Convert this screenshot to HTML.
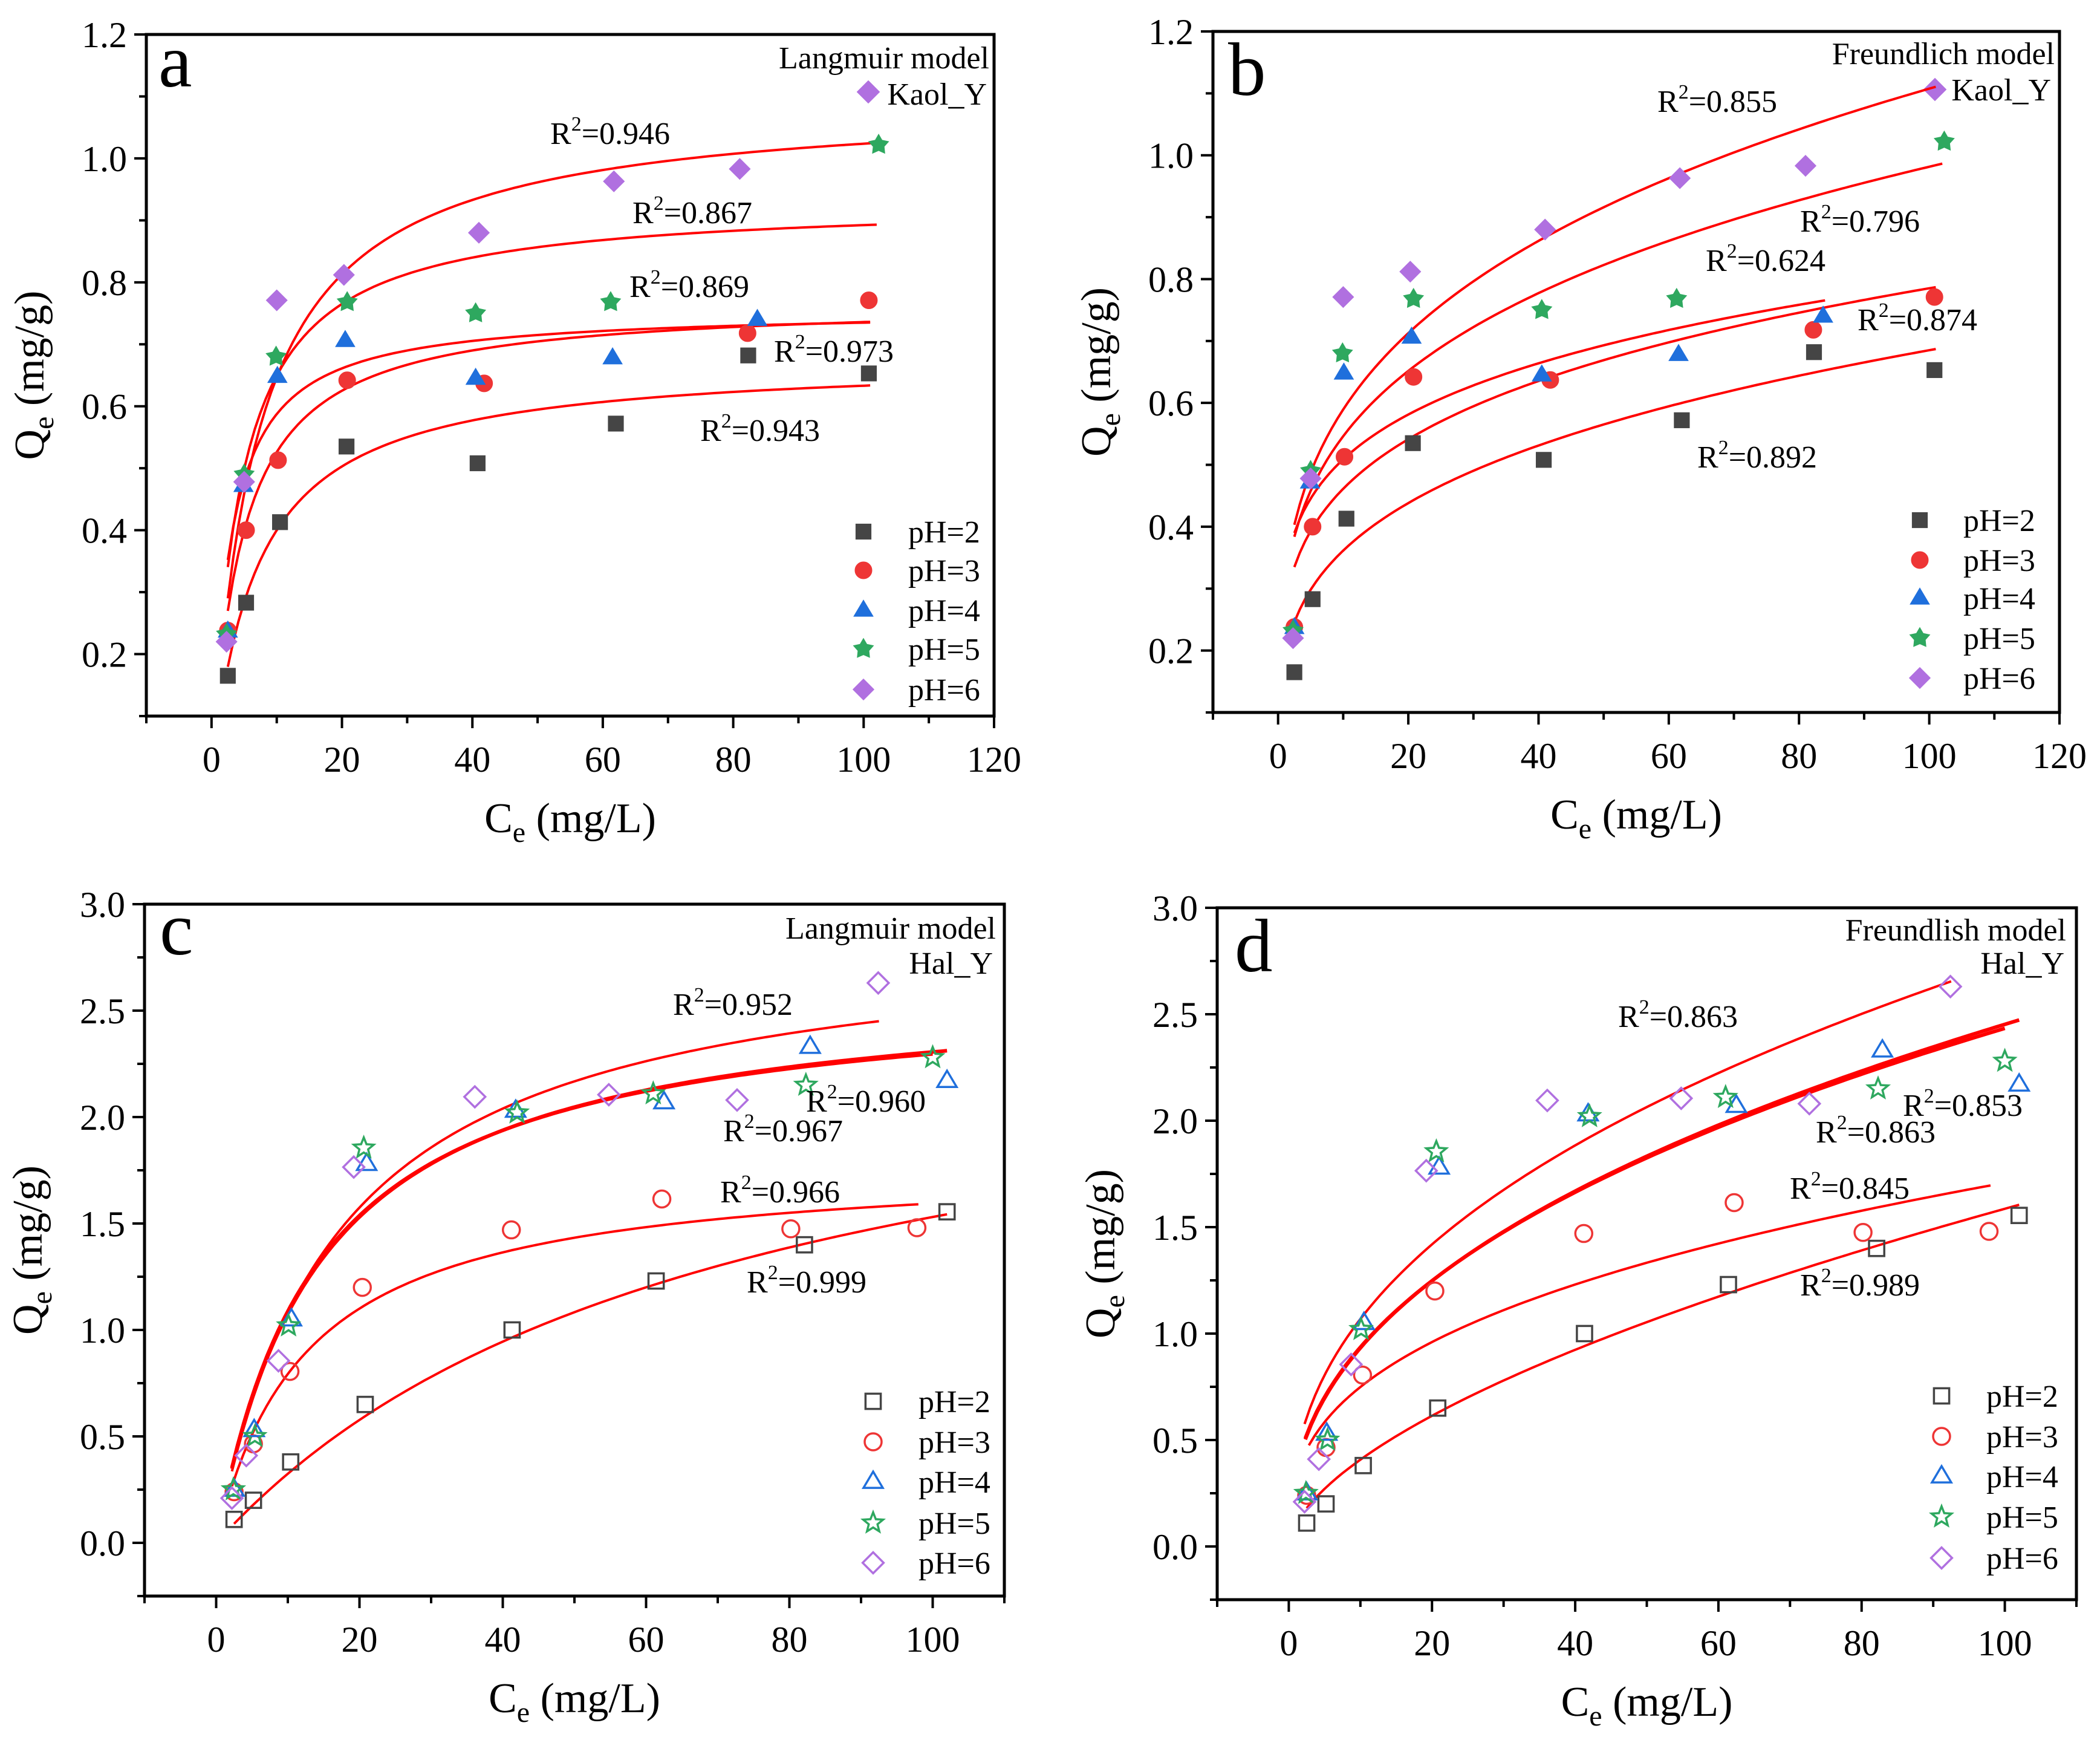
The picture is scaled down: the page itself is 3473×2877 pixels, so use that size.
<!DOCTYPE html>
<html><head><meta charset="utf-8">
<style>
html,body{margin:0;padding:0;background:#fff;}
svg{display:block;font-family:"Liberation Serif","DejaVu Serif",serif;}
svg text{font-family:"Liberation Serif","DejaVu Serif",serif;}
</style></head>
<body>
<svg id="fig" width="3473" height="2877" viewBox="0 0 3473 2877" xmlns="http://www.w3.org/2000/svg" font-family="Liberation Serif, DejaVu Serif, serif"></svg>
<script>
// ---------- Kaolinite (panels a, b) data ----------
const kaolPH2x=[2.5,5.3,10.5,20.7,40.8,62,82.3,100.8];
const kaolPH2y=[0.165,0.283,0.413,0.535,0.508,0.572,0.682,0.653];
const kaolPH3x=[2.5,5.3,10.2,20.8,41.8,82.2,100.8];
const kaolPH3y=[0.238,0.40,0.513,0.642,0.637,0.718,0.771];
const kaolPH4x=[2.5,4.9,10.1,20.5,40.5,61.5,83.7];
const kaolPH4y=[0.237,0.472,0.648,0.706,0.645,0.678,0.740];
const kaolPH5x=[2.3,5.0,9.9,20.8,40.5,61.2,102.3];
const kaolPH5y=[0.232,0.49,0.68,0.768,0.75,0.768,1.022];
const kaolPH6x=[2.3,5.0,10.0,20.3,41.0,61.7,81.0];
const kaolPH6y=[0.22,0.478,0.771,0.812,0.88,0.963,0.983];
// ---------- Halloysite (panels c, d) data ----------
const halPH2x=[2.5,5.2,10.4,20.8,41.3,61.4,82.1,102];
const halPH2y=[0.11,0.2,0.38,0.65,1.0,1.23,1.40,1.555];
const halPH3x=[2.5,5.2,10.3,20.4,41.2,62.2,80.2,97.8];
const halPH3y=[0.24,0.465,0.805,1.20,1.47,1.615,1.475,1.48];
const halPH4x=[2.5,5.3,10.5,21,41.8,62.5,82.9,102];
const halPH4y=[0.25,0.53,1.05,1.78,2.03,2.07,2.33,2.17];
const halPH5x=[2.4,5.4,10.1,20.6,42,61,82.3,100];
const halPH5y=[0.25,0.5,1.02,1.855,2.02,2.11,2.15,2.28];
const halPH6x=[2.2,4.2,8.7,19.2,36.1,54.8,72.7,92.4];
const halPH6y=[0.21,0.41,0.855,1.765,2.095,2.105,2.08,2.63];
// ---------- fitted model parameters ----------
const langA_qm=[0.677,0.770,0.756,0.931,1.0947];
const langA_K=[0.1444,0.2157,0.3485,0.2306,0.1442];
const langA_xmax=[101,101,101,102,102];
const freuB_Kf=[0.1907,0.271,0.327,0.304,0.3136];
const freuB_n=[0.2777,0.231,0.192,0.2545,0.274];
const freuB_xmax=[101,101,84,102,101];
const langC_qm=[2.607,1.795,2.64,2.62,2.894];
const langC_K=[0.01422,0.0792,0.069,0.071,0.0597];
const langC_xmax=[102,98,102,100,92.5];
const freuD_Kf=[0.1048,0.3285,0.3545,0.36,0.4167];
const freuD_n=[0.59,0.358,0.42,0.415,0.409];
const freuD_xmax=[102,98,102,100,92.5];
const xTicksA=[0,20,40,60,80,100,120];
const yTicksA=[0.2,0.4,0.6,0.8,1.0,1.2];
const xTicksC=[0,20,40,60,80,100];
const yTicksC=[0.0,0.5,1.0,1.5,2.0,2.5,3.0];
const legendLabels=["pH=2","pH=3","pH=4","pH=5","pH=6"];

const NS="http://www.w3.org/2000/svg";
const FONT='Liberation Serif, DejaVu Serif, serif';
const svg=document.getElementById('fig');
const colors=["#454545","#ee3535","#1f6fdc","#2ea85f","#b070e0"];
const shapes=["square","circle","triangle","star","diamond"];
function mk(tag,attrs,parent){const e=document.createElementNS(NS,tag);for(const k in attrs)e.setAttribute(k,attrs[k]);if(tag==='text')e.setAttribute('font-family',FONT);(parent||svg).appendChild(e);return e;}

function marker(g,shape,cx,cy,color,filled,s){
  let e;
  const st=filled?{fill:color,stroke:color,'stroke-width':1}:{fill:'none',stroke:color,'stroke-width':3.5};
  if(shape==='square'){e=mk('rect',Object.assign({x:cx-s*0.45,y:cy-s*0.45,width:s*0.9,height:s*0.9},st),g);}
  else if(shape==='circle'){e=mk('circle',Object.assign({cx:cx,cy:cy,r:s*0.5},st),g);}
  else if(shape==='triangle'){const r=s*0.6;e=mk('polygon',Object.assign({points:`${cx},${cy-r} ${cx+r*0.95},${cy+r*0.6} ${cx-r*0.95},${cy+r*0.6}`},st),g);}
  else if(shape==='diamond'){const r=s*0.62;e=mk('polygon',Object.assign({points:`${cx},${cy-r} ${cx+r},${cy} ${cx},${cy+r} ${cx-r},${cy}`},st),g);}
  else {let p=[];const R=s*0.62,r=filled?s*0.34:s*0.27;for(let i=0;i<10;i++){const a=-Math.PI/2+i*Math.PI/5;const rr=i%2?r:R;p.push((cx+rr*Math.cos(a)).toFixed(1)+','+(cy+rr*Math.sin(a)).toFixed(1));}e=mk('polygon',Object.assign({points:p.join(' ')},st),g);}
  return e;
}

function panel(cfg){
  const g=mk('g',{});
  
  
  const {L,R,T,B,x0,x1,y0,y1}=cfg;
  const sx=v=>L+(v-x0)/(x1-x0)*(R-L);
  const sy=v=>B-(v-y0)/(y1-y0)*(B-T);
  const fr=mk('rect',{x:L,y:T,width:R-L,height:B-T,fill:'none',stroke:'#000','stroke-width':5},g);
  
  
  for(let v=cfg.xMinorStart;v<=x1+1e-9;v+=cfg.xMinor){
    const major=cfg.xTicks.some(t=>Math.abs(t-v)<1e-6);
    mk('line',{x1:sx(v),x2:sx(v),y1:B,y2:B+(major?20:12),stroke:'#000','stroke-width':4},g);
  }
  cfg.xTicks.forEach(v=>{
    const t=mk('text',{x:sx(v),y:B+92,'font-size':60,'text-anchor':'middle',fill:'#000'},g);
    t.textContent=String(v);
    
    
  });
  for(let v=cfg.yMinorStart;v<=y1+1e-9;v+=cfg.yMinor){
    const major=cfg.yTicks.some(t=>Math.abs(t-v)<1e-6);
    mk('line',{x1:L,x2:L-(major?20:12),y1:sy(v),y2:sy(v),stroke:'#000','stroke-width':4},g);
  }
  cfg.yTicks.forEach(v=>{
    const t=mk('text',{x:L-32,y:sy(v)+21,'font-size':60,'text-anchor':'end',fill:'#000'},g);
    t.textContent=v.toFixed(1);
    
    
  });
  const xt=mk('text',{x:(L+R)/2,y:B+192,'font-size':70,'text-anchor':'middle',fill:'#000'},g);
  xt.innerHTML='C<tspan font-size="48" dy="16">e</tspan><tspan dy="-16"> (mg/L)</tspan>';
  
  
  const yc=(T+B)/2, yx=L-cfg.ytOff;
  const yt=mk('text',{x:yx,y:yc,'font-size':70,'text-anchor':'middle',fill:'#000',transform:`rotate(-90 ${yx} ${yc})`},g);
  yt.innerHTML='Q<tspan font-size="48" dy="16">e</tspan><tspan dy="-16"> (mg/g)</tspan>';
  
  
  const pl=mk('text',{x:cfg.letter[1],y:cfg.letter[2],'font-size':125,fill:'#000'},g);
  pl.textContent=cfg.letter[0];
  
  
  cfg.titles.forEach(tt=>{
    const t=mk('text',{x:tt[1],y:tt[2],'font-size':52,'text-anchor':'end',fill:'#000'},g);
    t.textContent=tt[0];
    
    
  });
  if(cfg.titleDiamond){marker(g,'diamond',cfg.titleDiamond[0],cfg.titleDiamond[1],colors[4],true,30);}
  for(let i=0;i<5;i++){
    const pts=[];
    const xs=cfg.curveX0[i], xe=cfg.xmax[i];
    for(let k=0;k<=120;k++){const c=xs+(xe-xs)*k/120;pts.push(sx(c).toFixed(1)+','+sy(cfg.model(i,c)).toFixed(1));}
    const pl2=mk('polyline',{points:pts.join(' '),fill:'none',stroke:'#ff0000','stroke-width':cfg.curveW[i],'stroke-linejoin':'round'},g);
    
    
  }
  for(let i=0;i<5;i++){
    const sg=mk('g',{},g);
    
    
    cfg.xs[i].forEach((x,j)=>{marker(sg,shapes[i],sx(x),sy(cfg.ys[i][j]),colors[i],cfg.filled,28);});
  }
  cfg.r2.forEach(r=>{
    const t=mk('text',{x:r[1],y:r[2],'font-size':52,fill:'#000'},g);
    t.innerHTML='R<tspan font-size="34" dy="-22">2</tspan><tspan dy="22">='+r[0]+'</tspan>';
    
    
  });
  const lg=mk('g',{},g);
  
  
  legendLabels.forEach((lab,i)=>{
    const y=cfg.leg.rows[i];
    marker(lg,shapes[i],cfg.leg.mx,y,colors[i],cfg.filled,28);
    const t=mk('text',{x:cfg.leg.tx,y:y+18,'font-size':52,fill:'#000'},lg);
    t.textContent=lab;
    
    
  });
}

const kaolXs=[kaolPH2x,kaolPH3x,kaolPH4x,kaolPH5x,kaolPH6x];
const kaolYs=[kaolPH2y,kaolPH3y,kaolPH4y,kaolPH5y,kaolPH6y];
const halXs=[halPH2x,halPH3x,halPH4x,halPH5x,halPH6x];
const halYs=[halPH2y,halPH3y,halPH4y,halPH5y,halPH6y];

panel({name:'panel-a-langmuir-kaol',L:242,R:1644,T:57,B:1184,x0:-10,x1:120,y0:0.1,y1:1.2,
  xTicks:xTicksA,yTicks:yTicksA,xMinor:10,xMinorStart:-10,yMinor:0.1,yMinorStart:0.1,ytOff:170,
  letter:['a',262,143],titles:[['Langmuir model',1636,113],['Kaol_Y',1632,173]],titleDiamond:[1436,152],
  model:(i,c)=>langA_qm[i]*langA_K[i]*c/(1+langA_K[i]*c),xmax:langA_xmax,curveX0:[2.5,2.5,2.5,2.5,2.5],curveW:[4,4,4,4,4],
  xs:kaolXs,ys:kaolYs,filled:true,
  r2:[['0.946',910,238],['0.867',1046,369],['0.869',1041,491],['0.973',1280,598],['0.943',1158,729]],
  leg:{mx:1428,tx:1502,rows:[879,943,1009,1073,1140]}});

panel({name:'panel-b-freundlich-kaol',L:2006,R:3406,T:52,B:1178,x0:-10,x1:120,y0:0.1,y1:1.2,
  xTicks:xTicksA,yTicks:yTicksA,xMinor:10,xMinorStart:-10,yMinor:0.1,yMinorStart:0.1,ytOff:170,
  letter:['b',2031,157],titles:[['Freundlich model',3398,106],['Kaol_Y',3392,166]],titleDiamond:[3200,148],
  model:(i,c)=>freuB_Kf[i]*Math.pow(c,freuB_n[i]),xmax:freuB_xmax,curveX0:[2.5,2.5,2.5,2.5,2.5],curveW:[4,4,4,4,4],
  xs:kaolXs,ys:kaolYs,filled:true,
  r2:[['0.855',2741,185],['0.796',2977,383],['0.624',2821,448],['0.874',3072,546],['0.892',2807,773]],
  leg:{mx:3175,tx:3247,rows:[860,926,989,1055,1121]}});

panel({name:'panel-c-langmuir-hal',L:239,R:1661,T:1495,B:2639,x0:-10,x1:110,y0:-0.25,y1:3.0,
  xTicks:xTicksC,yTicks:yTicksC,xMinor:10,xMinorStart:-10,yMinor:0.25,yMinorStart:-0.25,ytOff:170,
  letter:['c',264,1578],titles:[['Langmuir model',1647,1552],['Hal_Y',1642,1610]],
  model:(i,c)=>langC_qm[i]*langC_K[i]*c/(1+langC_K[i]*c),xmax:langC_xmax,curveX0:[2.5,2.2,2.2,2.2,2.2],curveW:[4,4,6,6,4],
  xs:halXs,ys:halYs,filled:false,
  r2:[['0.952',1113,1678],['0.960',1333,1838],['0.967',1196,1887],['0.966',1191,1988],['0.999',1235,2137]],
  leg:{mx:1444,tx:1519,rows:[2317,2384,2450,2518,2584]}});

panel({name:'panel-d-freundlich-hal',L:2013,R:3434,T:1501,B:2645,x0:-10,x1:110,y0:-0.25,y1:3.0,
  xTicks:xTicksC,yTicks:yTicksC,xMinor:10,xMinorStart:-10,yMinor:0.25,yMinorStart:-0.25,ytOff:170,
  letter:['d',2042,1606],titles:[['Freundlish model',3417,1555],['Hal_Y',3414,1610]],
  model:(i,c)=>freuD_Kf[i]*Math.pow(c,freuD_n[i]),xmax:freuD_xmax,curveX0:[2.5,2.8,2.3,2.3,2.2],curveW:[4,4,6,6,4],
  xs:halXs,ys:halYs,filled:false,
  r2:[['0.863',2676,1698],['0.853',3147,1845],['0.863',3003,1889],['0.845',2960,1982],['0.989',2977,2142]],
  leg:{mx:3211,tx:3285,rows:[2308,2375,2441,2508,2576]}});
</script>
</body></html>
